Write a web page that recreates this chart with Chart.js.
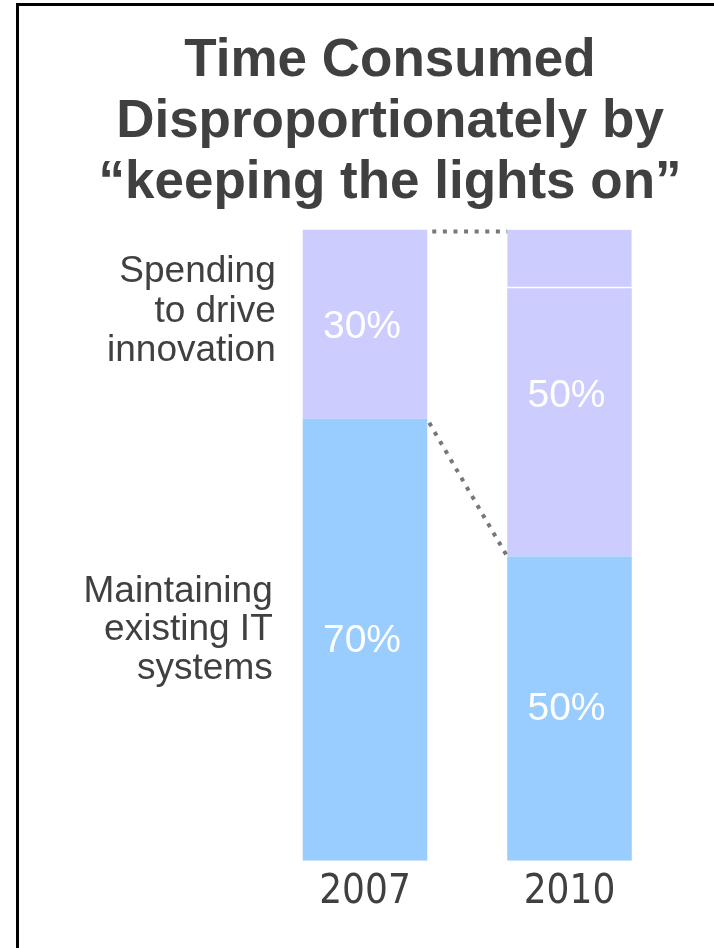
<!DOCTYPE html>
<html>
<head>
<meta charset="utf-8">
<script src="https://cdn.jsdelivr.net/npm/chart.js@4"></script>
<style>
  html, body { margin: 0; padding: 0; background: #fff; }
  #wrap { width: 714px; height: 948px; position: relative; }
</style>
</head>
<body>
<div id="wrap"><canvas id="chart" width="714" height="948"></canvas></div>
<script>
// ── Time consumed by "keeping the lights on" ──
const titleLines = ['Time Consumed', 'Disproportionately by', '\u201ckeeping the lights on\u201d'];
const years = ['2007', '2010'];

// stacked segments, percent of bar height
const maintaining = [70, 48.2];
const innovation  = [30, 42.5];
const innovationTop = [0, 9.3];

// printed labels on the bars
const maintainLabels   = ['70%', '50%'];
const innovationLabels = ['30%', '50%'];

const seriesNames = {
  innovation: ['Spending', 'to drive', 'innovation'],
  maintaining: ['Maintaining', 'existing IT', 'systems']
};

const TEXT = '#404040';
const BLUE = '#99CCFF';
const LAVENDER = '#CCCCFF';

// frame, title, series names, bar values, dotted connectors
const decor = {
  id: 'decor',
  beforeDraw(chart) {
    const ctx = chart.ctx;
    ctx.save();
    ctx.fillStyle = '#000';
    ctx.fillRect(16, 3, chart.width - 16, 3);
    ctx.fillRect(16, 3, 3, chart.height - 3);
    ctx.restore();
  },
  afterDatasetsDraw(chart) {
    const ctx = chart.ctx;
    const y = chart.scales.y;
    const m0 = chart.getDatasetMeta(0).data;
    const m1 = chart.getDatasetMeta(1).data;
    const m2 = chart.getDatasetMeta(2).data;

    ctx.save();
    // title
    ctx.fillStyle = TEXT;
    ctx.font = 'bold 53px "Liberation Sans", Arial, sans-serif';
    ctx.textAlign = 'center';
    ctx.textBaseline = 'alphabetic';
    titleLines.forEach((t, i) => ctx.fillText(t, 390, 76 + i * 61));

    // dotted connectors
    ctx.strokeStyle = '#777';
    ctx.lineWidth = 4;
    ctx.setLineDash([4, 6.6]);
    const left = m0[0].x + m0[0].width / 2;
    const right = m0[1].x - m0[1].width / 2;
    ctx.beginPath();
    ctx.moveTo(left + 5, y.getPixelForValue(100) + 2);
    ctx.lineTo(right, y.getPixelForValue(100) + 2);
    ctx.stroke();
    ctx.beginPath();
    ctx.moveTo(left + 2, y.getPixelForValue(maintaining[0]) + 4);
    ctx.lineTo(right, y.getPixelForValue(maintaining[1]));
    ctx.stroke();
    ctx.setLineDash([]);

    // values in the bars
    ctx.fillStyle = '#fff';
    ctx.font = '39px "Liberation Sans", Arial, sans-serif';
    ctx.textBaseline = 'middle';
    years.forEach((yr, i) => {
      const cx = m0[i].x - 3;
      const bTop = m0[i].y, bBot = m0[i].base;
      ctx.fillText(maintainLabels[i], cx, (bTop + bBot) / 2 + 1);
      const iTop = innovationTop[i] > 0 ? m2[i].y : m1[i].y;
      ctx.fillText(innovationLabels[i], cx, (iTop + m1[i].base) / 2 + 3);
    });

    // series names to the left of the first bar
    ctx.fillStyle = TEXT;
    ctx.font = '37px "Liberation Sans", Arial, sans-serif';
    ctx.textAlign = 'right';
    ctx.textBaseline = 'alphabetic';
    const nx = m0[0].x - m0[0].width / 2 - 27;
    const innC = (m1[0].y + m1[0].base) / 2;
    seriesNames.innovation.forEach((t, i) => ctx.fillText(t, nx, innC - 42 + i * 39.5));
    const mC = (m0[0].y + m0[0].base) / 2;
    seriesNames.maintaining.forEach((t, i) => ctx.fillText(t, nx - 3, mC - 38 + i * 38.5));
    ctx.restore();
  }
};

const ds = (label, data, color, extra) => Object.assign({
  label, data,
  backgroundColor: color,
  borderWidth: 0,
  categoryPercentage: 1,
  barPercentage: 0.609
}, extra || {});

new Chart(document.getElementById('chart'), {
  type: 'bar',
  data: {
    labels: years,
    datasets: [
      ds('Maintaining existing IT systems', maintaining, BLUE),
      ds('Spending to drive innovation', innovation, LAVENDER),
      ds('Spending to drive innovation (top)', innovationTop, LAVENDER,
         { borderColor: '#fff', borderWidth: { bottom: 1.5 }, borderSkipped: false })
    ]
  },
  options: {
    responsive: false,
    animation: false,
    layout: { padding: { top: 229.5, left: 262.75, right: 42.25, bottom: 39.3 } },
    plugins: { legend: { display: false }, title: { display: false }, tooltip: { enabled: false } },
    scales: {
      x: {
        stacked: true,
        grid: { display: false, drawTicks: false },
        border: { display: false },
        ticks: {
          color: TEXT,
          padding: 8,
          font: { size: 40, family: '"DejaVu Sans Condensed", "DejaVu Sans", sans-serif' }
        },
        afterFit: s => { s.height = 48; }
      },
      y: { stacked: true, display: false, min: 0, max: 100 }
    }
  },
  plugins: [decor]
});
</script>
</body>
</html>
